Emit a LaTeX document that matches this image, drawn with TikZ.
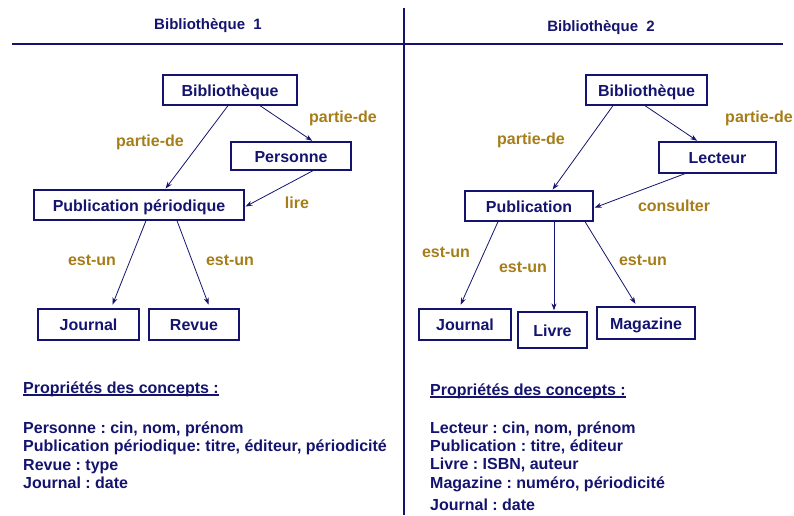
\documentclass[tikz,border=0pt]{standalone}
\usepackage{fontspec}
\setmainfont{Liberation Sans}
\usepackage{tikz}
\usetikzlibrary{arrows.meta}
\usetikzlibrary{positioning}
\frenchspacing
\definecolor{marine}{RGB}{20,20,110}
\definecolor{ocre}{RGB}{165,125,25}
\tikzset{boite/.style = {draw=marine, line width=1.3pt, text=marine, inner sep=0,
                         text height=14pt, text depth=2pt,
                         font=\fontsize{16}{19}\selectfont\bfseries}}
\tikzset{lien/.style = {marine, line width=0.8pt, -{Stealth[length=7pt, width=5pt]}, shorten >=1pt}}
\tikzset{etiq/.style = {text=ocre, inner sep=0, font=\fontsize{16}{19}\selectfont\bfseries}}
\tikzset{prop/.style = {text=marine, inner sep=0, anchor=base west,
                        font=\fontsize{16}{19}\selectfont\bfseries}}

\begin{document}
\begin{tikzpicture}[x=1pt, y=-1pt]
    \useasboundingbox (0, 0) rectangle (794, 515);
    \draw [marine, line width=1.4pt] (12, 44) -- (783, 44);
    \draw [marine, line width=1.4pt] (404, 8) -- (404, 515);
    \node [etiq, text=marine, font=\fontsize{15}{18}\selectfont\bfseries] (titreA) at (208, 26) {Bibliothèque\ \ 1};
    \node [etiq, text=marine, font=\fontsize{15}{18}\selectfont\bfseries] (titreB) at (601, 28) {Bibliothèque\ \ 2};

    % Bibliotheque 1
    \node [boite, minimum width=134, minimum height=30] (bibA) at (230, 90) {Bibliothèque};
    \node [boite, minimum width=120, minimum height=28] (persA) at (291, 156) {Personne};
    \node [boite, minimum width=210, minimum height=30] (pubA) at (139, 205) {Publication périodique};
    \node [boite, minimum width=101, minimum height=31] (jourA) at (88.5, 324.5) {Journal};
    \node [boite, minimum width=90, minimum height=31] (revA) at (194, 324.5) {Revue};

    \draw [lien] ([xshift=-2pt]bibA.south) -- ([xshift=26pt]pubA.north);
    \draw [lien] ([xshift=30pt]bibA.south) -- ([xshift=22pt]persA.north);
    \draw [lien] ([xshift=22pt]persA.south) -- ([yshift=-2pt]pubA.east);
    \draw [lien, shorten >=4pt] ([xshift=7pt]pubA.south) -- ([xshift=22.5pt]jourA.north);
    \draw [lien, shorten >=4pt] ([xshift=38pt]pubA.south) -- ([xshift=16pt]revA.north);

    \node [etiq] (partieA1) at (150, 142) {partie-de};
    \node [etiq] (partieA2) at (343, 118) {partie-de};
    \node [etiq] (lireA) at (297, 203) {lire};
    \node [etiq] (estunA1) at (92, 260) {est-un};
    \node [etiq] (estunA2) at (230, 260) {est-un};

    % Bibliotheque 2
    \node [boite, minimum width=121, minimum height=30] (bibB) at (646.5, 90) {Bibliothèque};
    \node [boite, minimum width=117, minimum height=31] (lectB) at (717.5, 157.5) {Lecteur};
    \node [boite, minimum width=128, minimum height=30] (pubB) at (529, 206) {Publication};
    \node [boite, minimum width=92, minimum height=31] (jourB) at (465, 324.5) {Journal};
    \node [boite, minimum width=69, minimum height=36] (livB) at (552.5, 330) {Livre};
    \node [boite, minimum width=98, minimum height=32] (magB) at (646, 323) {Magazine};

    \draw [lien] ([xshift=-33.5pt]bibB.south) -- ([xshift=23pt]pubB.north);
    \draw [lien] ([xshift=-1.5pt]bibB.south) -- ([xshift=-19.5pt]lectB.north);
    \draw [lien] ([xshift=-32.5pt]lectB.south) -- ([yshift=-2pt]pubB.east);
    \draw [lien, shorten >=4pt] ([xshift=-31pt]pubB.south) -- ([xshift=-6pt]jourB.north);
    \draw [lien] ([xshift=25pt]pubB.south) -- ([xshift=1.5pt]livB.north);
    \draw [lien, shorten >=3pt] ([xshift=56pt]pubB.south) -- ([xshift=-9pt]magB.north);

    \node [etiq] (partieB1) at (531, 140) {partie-de};
    \node [etiq] (partieB2) at (759, 118) {partie-de};
    \node [etiq] (consulterB) at (674, 206) {consulter};
    \node [etiq] (estunB1) at (446, 252) {est-un};
    \node [etiq] (estunB2) at (523, 267) {est-un};
    \node [etiq] (estunB3) at (643, 260) {est-un};

    % proprietes
    \node [prop] (propA) at (23, 393) {Propriétés des concepts :};
    \draw [marine, line width=1.2pt] ([yshift=-2pt]propA.base west) -- ([yshift=-2pt]propA.base east);
    \foreach \texte/\y [count=\i] in {{Personne : cin, nom, prénom}/433,
        {Publication périodique: titre, éditeur, périodicité}/451,
        {Revue : type}/470, {Journal : date}/488}
      \node [prop] (propA\i) at (23, \y) {\texte};

    \node [prop] (propB) at (430, 395) {Propriétés des concepts :};
    \draw [marine, line width=1.2pt] ([yshift=-2pt]propB.base west) -- ([yshift=-2pt]propB.base east);
    \foreach \texte/\y [count=\i] in {{Lecteur : cin, nom, prénom}/433,
        {Publication : titre, éditeur}/451, {Livre : ISBN, auteur}/469,
        {Magazine : numéro, périodicité}/488, {Journal : date}/510}
      \node [prop] (propB\i) at (430, \y) {\texte};
\end{tikzpicture}
\end{document}
